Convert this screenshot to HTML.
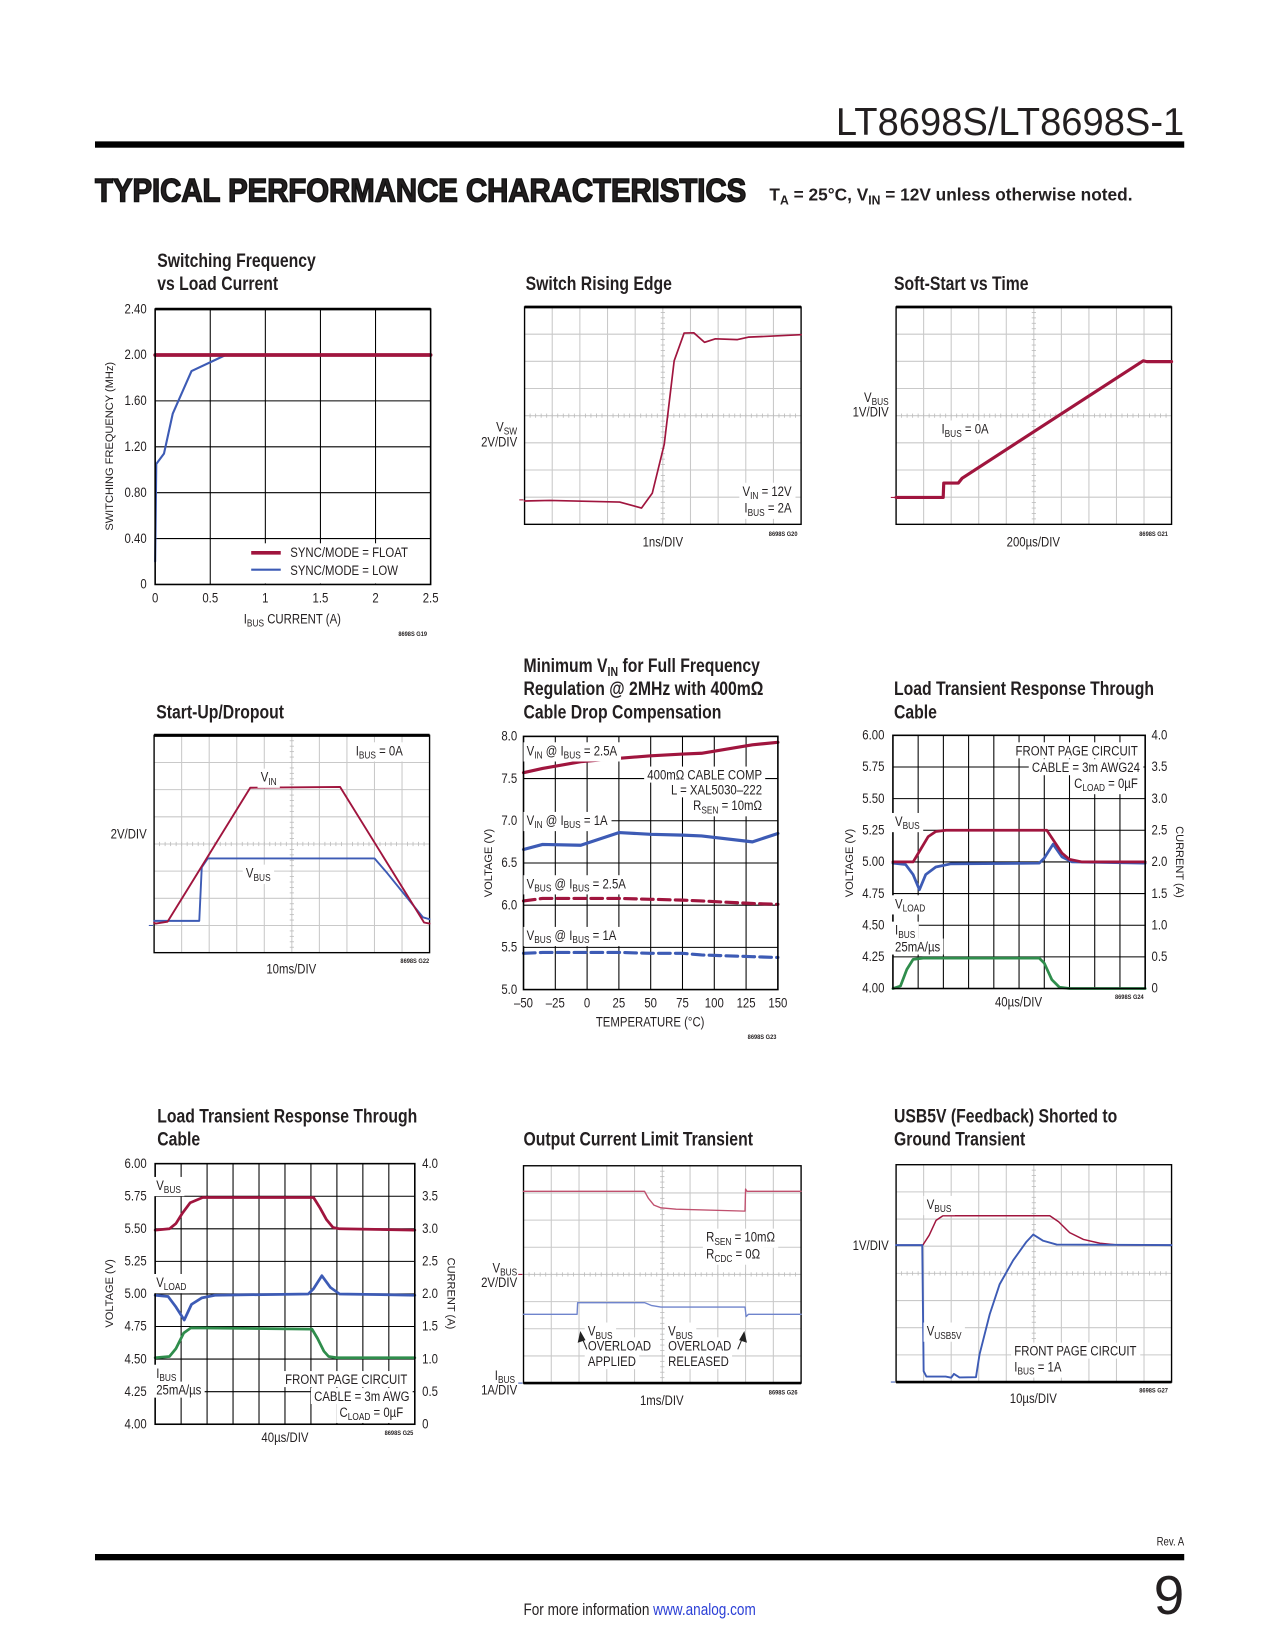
<!DOCTYPE html>
<html><head><meta charset="utf-8"><title>LT8698S Typical Performance Characteristics</title>
<style>
html,body{margin:0;padding:0;background:#fff;}
svg{display:block;}
text{font-family:"Liberation Sans Narrow","Liberation Sans",sans-serif;fill:#231f20;}
.tk{font-size:13px;}
.lb{font-size:13px;}
.s{font-size:9.5px;}
.ttl{font-size:18px;font-weight:bold;}
.code{font-size:6.5px;font-weight:bold;}
.rot{font-family:"Liberation Sans",sans-serif;font-size:10.5px;}
</style></head>
<body>
<svg id="page" xmlns="http://www.w3.org/2000/svg" width="1275" height="1650" viewBox="0 0 1208 1564" preserveAspectRatio="none">
<rect x="0" y="0" width="1208" height="1564" fill="#fff"/>
<text x="1122" y="128" text-anchor="end" font-size="37" textLength="330" lengthAdjust="spacingAndGlyphs">LT8698S/LT8698S-1</text>
<rect x="90" y="134" width="1032" height="6" fill="#000"/>
<text x="90" y="191" font-size="31" font-weight="bold" stroke="#111" stroke-width="1.4" textLength="617" lengthAdjust="spacingAndGlyphs">TYPICAL PERFORMANCE CHARACTERISTICS</text>
<text x="729" y="190" font-size="17" font-weight="bold" textLength="344" lengthAdjust="spacingAndGlyphs">T<tspan font-size="12" dy="4">A</tspan><tspan dy="-4"> = 25°C, V</tspan><tspan font-size="12" dy="4">IN</tspan><tspan dy="-4"> = 12V unless otherwise noted.</tspan></text>

<g id="plots"></g>
<g id="knockouts"></g>

<g id="labels">
<!-- G19 -->
<text class="ttl" x="149" y="253">Switching Frequency</text>
<text class="ttl" x="149" y="275">vs Load Current</text>
<text class="rot" transform="translate(107,423) rotate(-90)" text-anchor="middle">SWITCHING FREQUENCY (MHz)</text>
<text class="lb" x="277" y="591" text-anchor="middle">I<tspan class="s" dy="3">BUS</tspan><tspan dy="-3"> CURRENT (A)</tspan></text>
<text class="code" x="391" y="603" text-anchor="middle">8698S G19</text>
<text class="lb" x="275" y="528">SYNC/MODE = FLOAT</text>
<text class="lb" x="275" y="545">SYNC/MODE = LOW</text>
<!-- G20 -->
<text class="ttl" x="498" y="275">Switch Rising Edge</text>
<text class="lb" x="490" y="409" text-anchor="end">V<tspan class="s" dy="3">SW</tspan></text>
<text class="lb" x="490" y="423" text-anchor="end">2V/DIV</text>
<text class="lb" x="628" y="518" text-anchor="middle">1ns/DIV</text>
<text class="code" x="742" y="508" text-anchor="middle">8698S G20</text>
<text class="lb ko" x="750" y="470" text-anchor="end">V<tspan class="s" dy="3">IN</tspan><tspan dy="-3"> = 12V</tspan></text>
<text class="lb ko" x="750" y="486" text-anchor="end">I<tspan class="s" dy="3">BUS</tspan><tspan dy="-3"> = 2A</tspan></text>
<!-- G21 -->
<text class="ttl" x="847" y="275">Soft-Start vs Time</text>
<text class="lb" x="842" y="381" text-anchor="end">V<tspan class="s" dy="3">BUS</tspan></text>
<text class="lb" x="842" y="395" text-anchor="end">1V/DIV</text>
<text class="lb ko" x="892" y="411">I<tspan class="s" dy="3">BUS</tspan><tspan dy="-3"> = 0A</tspan></text>
<text class="lb" x="979" y="518" text-anchor="middle">200µs/DIV</text>
<text class="code" x="1093" y="508" text-anchor="middle">8698S G21</text>
<!-- G22 -->
<text class="ttl" x="148" y="681">Start-Up/Dropout</text>
<text class="lb" x="139" y="795" text-anchor="end">2V/DIV</text>
<text class="lb ko" x="337" y="716">I<tspan class="s" dy="3">BUS</tspan><tspan dy="-3"> = 0A</tspan></text>
<text class="lb ko" x="247" y="741">V<tspan class="s" dy="3">IN</tspan></text>
<text class="lb ko" x="233" y="832">V<tspan class="s" dy="3">BUS</tspan></text>
<text class="lb" x="276" y="923" text-anchor="middle">10ms/DIV</text>
<text class="code" x="393" y="913" text-anchor="middle">8698S G22</text>
<!-- G23 -->
<text class="ttl" x="496" y="637">Minimum V<tspan font-size="12" dy="4">IN</tspan><tspan dy="-4"> for Full Frequency</tspan></text>
<text class="ttl" x="496" y="659">Regulation @ 2MHz with 400mΩ</text>
<text class="ttl" x="496" y="681">Cable Drop Compensation</text>
<text class="rot" transform="translate(466,818) rotate(-90)" text-anchor="middle">VOLTAGE (V)</text>
<text class="lb" x="616" y="973" text-anchor="middle">TEMPERATURE (°C)</text>
<text class="code" x="722" y="985" text-anchor="middle">8698S G23</text>
<text class="lb ko" x="499" y="716">V<tspan class="s" dy="3">IN</tspan><tspan dy="-3"> @ I</tspan><tspan class="s" dy="3">BUS</tspan><tspan dy="-3"> = 2.5A</tspan></text>
<text class="lb ko" x="722" y="739" text-anchor="end">400mΩ CABLE COMP</text>
<text class="lb ko" x="722" y="753" text-anchor="end">L = XAL5030–222</text>
<text class="lb ko" x="722" y="768" text-anchor="end">R<tspan class="s" dy="3">SEN</tspan><tspan dy="-3"> = 10mΩ</tspan></text>
<text class="lb ko" x="499" y="782">V<tspan class="s" dy="3">IN</tspan><tspan dy="-3"> @ I</tspan><tspan class="s" dy="3">BUS</tspan><tspan dy="-3"> = 1A</tspan></text>
<text class="lb ko" x="499" y="842">V<tspan class="s" dy="3">BUS</tspan><tspan dy="-3"> @ I</tspan><tspan class="s" dy="3">BUS</tspan><tspan dy="-3"> = 2.5A</tspan></text>
<text class="lb ko" x="499" y="891">V<tspan class="s" dy="3">BUS</tspan><tspan dy="-3"> @ I</tspan><tspan class="s" dy="3">BUS</tspan><tspan dy="-3"> = 1A</tspan></text>
<!-- G24 -->
<text class="ttl" x="847" y="659">Load Transient Response Through</text>
<text class="ttl" x="847" y="681">Cable</text>
<text class="rot" transform="translate(808,818) rotate(-90)" text-anchor="middle">VOLTAGE (V)</text>
<text class="rot" transform="translate(1114,817) rotate(90)" text-anchor="middle">CURRENT (A)</text>
<text class="lb ko" x="1078" y="716" text-anchor="end">FRONT PAGE CIRCUIT</text>
<text class="lb ko" x="1080" y="732" text-anchor="end">CABLE = 3m AWG24</text>
<text class="lb ko" x="1078" y="747" text-anchor="end">C<tspan class="s" dy="3">LOAD</tspan><tspan dy="-3"> = 0µF</tspan></text>
<text class="lb ko" x="848" y="783">V<tspan class="s" dy="3">BUS</tspan></text>
<text class="lb ko" x="848" y="861">V<tspan class="s" dy="3">LOAD</tspan></text>
<text class="lb ko" x="848" y="886">I<tspan class="s" dy="3">BUS</tspan></text>
<text class="lb ko" x="848" y="902">25mA/µs</text>
<text class="lb" x="965" y="954" text-anchor="middle">40µs/DIV</text>
<text class="code" x="1070" y="947" text-anchor="middle">8698S G24</text>
<!-- G25 -->
<text class="ttl" x="149" y="1064">Load Transient Response Through</text>
<text class="ttl" x="149" y="1086">Cable</text>
<text class="rot" transform="translate(107,1226) rotate(-90)" text-anchor="middle">VOLTAGE (V)</text>
<text class="rot" transform="translate(424,1226) rotate(90)" text-anchor="middle">CURRENT (A)</text>
<text class="lb ko" x="148" y="1128">V<tspan class="s" dy="3">BUS</tspan></text>
<text class="lb ko" x="148" y="1220">V<tspan class="s" dy="3">LOAD</tspan></text>
<text class="lb ko" x="148" y="1306">I<tspan class="s" dy="3">BUS</tspan></text>
<text class="lb ko" x="148" y="1322">25mA/µs</text>
<text class="lb ko" x="386" y="1312" text-anchor="end">FRONT PAGE CIRCUIT</text>
<text class="lb ko" x="388" y="1328" text-anchor="end">CABLE = 3m AWG</text>
<text class="lb ko" x="382" y="1343" text-anchor="end">C<tspan class="s" dy="3">LOAD</tspan><tspan dy="-3"> = 0µF</tspan></text>
<text class="lb" x="270" y="1367" text-anchor="middle">40µs/DIV</text>
<text class="code" x="378" y="1360" text-anchor="middle">8698S G25</text>
<!-- G26 -->
<text class="ttl" x="496" y="1086">Output Current Limit Transient</text>
<text class="lb" x="490" y="1206" text-anchor="end">V<tspan class="s" dy="3">BUS</tspan></text>
<text class="lb" x="490" y="1220" text-anchor="end">2V/DIV</text>
<text class="lb" x="488" y="1308" text-anchor="end">I<tspan class="s" dy="3">BUS</tspan></text>
<text class="lb" x="490" y="1322" text-anchor="end">1A/DIV</text>
<text class="lb ko" x="669" y="1177">R<tspan class="s" dy="3">SEN</tspan><tspan dy="-3"> = 10mΩ</tspan></text>
<text class="lb ko" x="669" y="1193">R<tspan class="s" dy="3">CDC</tspan><tspan dy="-3"> = 0Ω</tspan></text>
<text class="lb ko" x="557" y="1266">V<tspan class="s" dy="3">BUS</tspan></text>
<text class="lb ko" x="557" y="1280">OVERLOAD</text>
<text class="lb ko" x="557" y="1295">APPLIED</text>
<text class="lb ko" x="633" y="1266">V<tspan class="s" dy="3">BUS</tspan></text>
<text class="lb ko" x="633" y="1280">OVERLOAD</text>
<text class="lb ko" x="633" y="1295">RELEASED</text>
<text class="lb" x="627" y="1332" text-anchor="middle">1ms/DIV</text>
<text class="code" x="742" y="1322" text-anchor="middle">8698S G26</text>
<!-- G27 -->
<text class="ttl" x="847" y="1064">USB5V (Feedback) Shorted to</text>
<text class="ttl" x="847" y="1086">Ground Transient</text>
<text class="lb" x="842" y="1185" text-anchor="end">1V/DIV</text>
<text class="lb ko" x="878" y="1146">V<tspan class="s" dy="3">BUS</tspan></text>
<text class="lb ko" x="878" y="1266">V<tspan class="s" dy="3">USB5V</tspan></text>
<text class="lb ko" x="961" y="1285">FRONT PAGE CIRCUIT</text>
<text class="lb ko" x="961" y="1300">I<tspan class="s" dy="3">BUS</tspan><tspan dy="-3"> = 1A</tspan></text>
<text class="lb" x="979" y="1330" text-anchor="middle">10µs/DIV</text>
<text class="code" x="1093" y="1320" text-anchor="middle">8698S G27</text>
</g>

<text x="1122" y="1465" text-anchor="end" font-size="11">Rev. A</text>
<rect x="90" y="1473" width="1032" height="6" fill="#000"/>
<text class="nocond" x="1122" y="1530" text-anchor="end" font-size="52" style="font-family:'Liberation Sans',sans-serif;">9</text>
<text x="606" y="1531" text-anchor="middle" font-size="15.5">For more information <tspan fill="#2b3fd6" style="fill:#2b3fd6">www.analog.com</tspan></text>
</svg>

<script>
// ---------- DATA ----------
// G19 switching frequency vs load current
const g19XTicks=[0,0.5,1,1.5,2,2.5];
const g19XTickLabels=['0','0.5','1','1.5','2','2.5'];
const g19YTicks=[0,0.4,0.8,1.2,1.6,2.0,2.4];
const g19YTickLabels=['0','0.40','0.80','1.20','1.60','2.00','2.40'];
const g19FloatCurrent=[0,2.5];
const g19FloatFreq=[2.0,2.0];
const g19LowCurrent=[0,0.01,0.08,0.16,0.33,0.64,2.5];
const g19LowFreq=[0.2,1.05,1.14,1.49,1.86,2.0,2.0];
// G20 switch rising edge (divisions)
const g20Time=[0,0.91,3.44,4.23,4.62,5.05,5.41,5.77,6.12,6.51,6.9,7.7,8.09,8.96,10];
const g20Vsw=[0.86,0.88,0.82,0.6,1.15,2.94,6.02,7.04,7.05,6.7,6.83,6.8,6.89,6.93,6.98];
// G21 soft-start (divisions)
const g21Time=[0,1.71,1.73,2.26,2.4,8.97,9.1,10];
const g21Vbus=[0.99,0.99,1.52,1.52,1.7,6.02,5.99,5.99];
// G22 start-up/dropout (divisions)
const g22VinTime=[0,0.06,0.49,3.49,6.75,9.8,10];
const g22Vin=[1.1,1.07,1.14,6.07,6.1,1.11,1.07];
const g22VbusTime=[0,1.64,1.73,1.95,8.0,8.46,9.76,10];
const g22Vbus=[1.17,1.17,3.14,3.47,3.47,2.93,1.3,1.23];
// G23 minimum VIN vs temperature
const g23XTicks=[-50,-25,0,25,50,75,100,125,150];
const g23XTickLabels=['–50','–25','0','25','50','75','100','125','150'];
const g23YTicks=[5.0,5.5,6.0,6.5,7.0,7.5,8.0];
const g23YTickLabels=['5.0','5.5','6.0','6.5','7.0','7.5','8.0'];
const g23Temps=[-50,-35,-5,25,50,75,90,130,150];
const g23Vin25=[7.57,7.62,7.70,7.74,7.77,7.79,7.80,7.90,7.93];
const g23Vin1=[6.66,6.72,6.71,6.86,6.84,6.83,6.82,6.75,6.85];
const g23Vbus25=[6.05,6.08,6.08,6.08,6.07,6.06,6.05,6.02,6.01];
const g23Vbus1=[5.43,5.44,5.44,5.44,5.43,5.43,5.41,5.39,5.38];
// G24 / G25 load transient (x divisions, left axis volts)
const ltLeftTicks=[4.0,4.25,4.5,4.75,5.0,5.25,5.5,5.75,6.0];
const ltLeftLabels=['4.00','4.25','4.50','4.75','5.00','5.25','5.50','5.75','6.00'];
const ltRightLabels=['0','0.5','1.0','1.5','2.0','2.5','3.0','3.5','4.0'];
const g24VbusT=[0,0.8,1.1,1.4,1.7,2.1,6.1,6.4,6.7,7.0,7.5,10];
const g24Vbus=[5.0,5.0,5.1,5.2,5.24,5.25,5.25,5.16,5.07,5.02,5.0,5.0];
const g24VloadT=[0,0.5,0.8,1.05,1.3,1.7,2.3,5.8,6.0,6.35,6.7,7.1,10];
const g24Vload=[4.99,4.98,4.9,4.78,4.9,4.96,4.985,4.99,5.03,5.14,5.04,5.0,4.99];
const g24IbusT=[0,0.3,0.55,0.8,1.2,5.8,6.0,6.3,6.6,7.0,10];
const g24Ibus=[4.0,4.02,4.15,4.23,4.24,4.24,4.2,4.07,4.01,4.0,4.0];
const g25VbusT=[0,0.55,0.8,1.05,1.35,1.83,6.1,6.35,6.6,6.85,7.1,10];
const g25Vbus=[5.49,5.5,5.54,5.62,5.7,5.74,5.74,5.66,5.57,5.51,5.5,5.49];
const g25VloadT=[0,0.5,0.8,1.12,1.4,1.8,2.3,5.9,6.1,6.42,6.75,7.1,10];
const g25Vload=[4.99,4.98,4.9,4.8,4.92,4.97,4.99,5.0,5.04,5.14,5.05,5.0,4.99];
const g25IbusT=[0,0.55,0.8,1.1,1.38,6.04,6.25,6.5,6.68,7.0,10];
const g25Ibus=[4.51,4.52,4.58,4.7,4.74,4.73,4.66,4.56,4.52,4.51,4.51];
// G26 current limit transient (divisions)
const g26VbusT=[0,4.36,4.5,4.7,4.95,5.5,7.98,8.0,8.05,10];
const g26Vbus=[7.06,7.06,6.8,6.55,6.45,6.4,6.33,7.14,7.06,7.06];
const g26IbusT=[0,1.93,1.95,4.36,4.6,4.95,7.98,8.02,8.1,10];
const g26Ibus=[2.53,2.53,2.96,2.96,2.86,2.8,2.8,2.45,2.53,2.53];
// G27 USB5V shorted (divisions)
const g27VbusT=[0,0.97,1.2,1.45,1.7,5.58,5.9,6.3,6.8,7.4,8.0,10];
const g27Vbus=[5.04,5.04,5.4,5.95,6.12,6.12,5.9,5.5,5.25,5.11,5.05,5.04];
const g27UsbT=[0,0.95,1.0,1.1,1.8,2.0,2.1,2.3,2.9,3.03,3.4,3.76,4.25,4.73,4.98,5.34,5.83,10];
const g27Usb=[5.04,5.04,0.4,0.2,0.2,0.16,0.3,0.17,0.18,1.02,2.5,3.6,4.48,5.16,5.43,5.2,5.06,5.04];

// ---------- DRAWING ----------
const NS='http://www.w3.org/2000/svg';
const root=document.getElementById('plots');
function mk(tag,attrs,parent){const e=document.createElementNS(NS,tag);for(const k in attrs)e.setAttribute(k,attrs[k]);(parent||root).appendChild(e);return e;}
function pts(xs,ys,fx,fy){return xs.map((v,i)=>(i?'L':'M')+fx(v).toFixed(2)+' '+fy(ys[i]).toFixed(2)).join(' ');}
function txt(x,y,s,anchor,g){const t=mk('text',{x:x,y:y,'class':'tk','text-anchor':anchor},g);t.textContent=s;return t;}

function trace(g,xs,ys,fx,fy,color,w,name,dash){
  const p=mk('path',{d:pts(xs,ys,fx,fy),fill:'none',stroke:color,'stroke-width':w,'stroke-linejoin':'round','stroke-linecap':'round'},g);
  if(dash)p.setAttribute('stroke-dasharray',dash);
  
  
  return p;
}

function scope(name,x0,y0,w,h){
  const g=mk('g',{});
  
  
  const fx=d=>x0+d*w/10, fy=d=>y0+h-d*h/8;
  for(let i=1;i<10;i++){const l=mk('line',{x1:fx(i),x2:fx(i),y1:y0,y2:y0+h,stroke:'#c9c9c9','stroke-width':1},g);
    
    }
  for(let i=1;i<8;i++){const l=mk('line',{x1:x0,x2:x0+w,y1:fy(i),y2:fy(i),stroke:'#c9c9c9','stroke-width':1},g);
    
    }
  for(let i=1;i<50;i++){const l=mk('line',{x1:fx(i/5),x2:fx(i/5),y1:fy(4)-2,y2:fy(4)+2,stroke:'#bdbdbd','stroke-width':0.8},g);
    
    }
  for(let i=1;i<40;i++){const l=mk('line',{x1:fx(5)-2,x2:fx(5)+2,y1:fy(i/5),y2:fy(i/5),stroke:'#bdbdbd','stroke-width':0.8},g);
    
    }
  const f=mk('rect',{x:x0,y:y0,width:w,height:h,fill:'none',stroke:'#000','stroke-width':1.3},g);
  
  
  return {g,fx,fy};
}
function marker(g,x,y,color,name){const m=mk('line',{x1:x-5,x2:x-1,y1:y,y2:y,stroke:color,'stroke-width':1},g);
  
  }

const RED='#a0153e', BLUE='#3d5bb5', GREEN='#2f8d4c';

// ===== G19 =====
(function(){
  const x0=147,y0=293,w=261,h=261;
  const g=mk('g',{});
  
  
  const fx=v=>x0+v/2.5*w, fy=v=>y0+h-v/2.4*h;
  g19XTicks.forEach((v,i)=>{
    if(i>0&&i<g19XTicks.length-1){const l=mk('line',{x1:fx(v),x2:fx(v),y1:y0,y2:y0+h,stroke:'#000','stroke-width':1},g);
      
      }
    const t=txt(fx(v),y0+h+17,g19XTickLabels[i],'middle',g);
    
    
  });
  g19YTicks.forEach((v,i)=>{
    if(i>0&&i<g19YTicks.length-1){const l=mk('line',{x1:x0,x2:x0+w,y1:fy(v),y2:fy(v),stroke:'#000','stroke-width':1},g);
      
      }
    const t=txt(x0-8,fy(v)+4,g19YTickLabels[i],'end',g);
    
    
  });
  const lb=mk('rect',{x:232,y:515,width:x0+w-233,height:y0+h-516,fill:'#fff'},g);
  
  
  const l1=mk('line',{x1:238,x2:266,y1:524,y2:524,stroke:RED,'stroke-width':3.5},g);
  
  
  const l2=mk('line',{x1:238,x2:266,y1:540,y2:540,stroke:BLUE,'stroke-width':2},g);
  
  
  trace(g,g19LowCurrent,g19LowFreq,fx,fy,BLUE,2,'g19-series-low');
  trace(g,g19FloatCurrent,g19FloatFreq,fx,fy,RED,3.5,'g19-series-float');
  const f=mk('rect',{x:x0,y:y0,width:w,height:h,fill:'none',stroke:'#000','stroke-width':1.5},g);
  
  
  const tb=mk('line',{x1:x0,x2:x0+w,y1:y0,y2:y0,stroke:'#000','stroke-width':2.5},g);
  
  
})();

// ===== G20 =====
(function(){
  const s=scope('g20-chart',497,291,262,206);
  trace(s.g,g20Time,g20Vsw,s.fx,s.fy,RED,1.6,'g20-series-vsw');
  marker(s.g,497,s.fy(0.9),RED,'g20-ground-marker');
  const tb=mk('line',{x1:497,x2:759,y1:291,y2:291,stroke:'#000','stroke-width':2.5},s.g);
  
  
})();

// ===== G21 =====
(function(){
  const s=scope('g21-chart',849,291,261,206);
  trace(s.g,g21Time,g21Vbus,s.fx,s.fy,RED,3,'g21-series-vbus');
  marker(s.g,849,s.fy(0.99),RED,'g21-ground-marker');
  const tb=mk('line',{x1:849,x2:1110,y1:291,y2:291,stroke:'#000','stroke-width':2.5},s.g);
  
  
})();

// ===== G22 =====
(function(){
  const s=scope('g22-chart',146,697,261,206);
  trace(s.g,g22VbusTime,g22Vbus,s.fx,s.fy,BLUE,1.8,'g22-series-vbus');
  trace(s.g,g22VinTime,g22Vin,s.fx,s.fy,RED,1.8,'g22-series-vin');
  marker(s.g,146,s.fy(1.0),BLUE,'g22-ground-marker');
  const tb=mk('line',{x1:146,x2:407,y1:697,y2:697,stroke:'#000','stroke-width':3},s.g);
  
  
})();

// ===== G23 =====
(function(){
  const x0=496,y0=698,w=241,h=240;
  const g=mk('g',{});
  
  
  const fx=t=>x0+(t+50)/200*w, fy=v=>y0+h-(v-5)/3*h;
  g23XTicks.forEach((v,i)=>{
    if(i>0&&i<g23XTicks.length-1){const l=mk('line',{x1:fx(v),x2:fx(v),y1:y0,y2:y0+h,stroke:'#000','stroke-width':1},g);
      
      }
    const t=txt(fx(v),y0+h+17,g23XTickLabels[i],'middle',g);
    
    
  });
  g23YTicks.forEach((v,i)=>{
    if(i>0&&i<g23YTicks.length-1){const l=mk('line',{x1:x0,x2:x0+w,y1:fy(v),y2:fy(v),stroke:'#000','stroke-width':1},g);
      
      }
    const t=txt(x0-6,fy(v)+4,g23YTickLabels[i],'end',g);
    
    
  });
  trace(g,g23Temps,g23Vin25,fx,fy,RED,3,'g23-series-vin-2p5a');
  trace(g,g23Temps,g23Vin1,fx,fy,BLUE,3,'g23-series-vin-1a');
  trace(g,g23Temps,g23Vbus25,fx,fy,RED,3,'g23-series-vbus-2p5a','11 5');
  trace(g,g23Temps,g23Vbus1,fx,fy,BLUE,3,'g23-series-vbus-1a','11 5');
  const f=mk('rect',{x:x0,y:y0,width:w,height:h,fill:'none',stroke:'#000','stroke-width':1.5},g);
  
  
})();

// ===== G24 / G25 =====
function loadTransient(name,x0,y0,w,h,lx,rx,sets){
  const g=mk('g',{});
  
  
  const fx=d=>x0+d*w/10, fy=v=>y0+h-(v-4)/2*h;
  for(let i=1;i<10;i++){const l=mk('line',{x1:fx(i),x2:fx(i),y1:y0,y2:y0+h,stroke:'#000','stroke-width':1},g);
    
    }
  ltLeftTicks.forEach((v,i)=>{
    if(i>0&&i<ltLeftTicks.length-1){const l=mk('line',{x1:x0,x2:x0+w,y1:fy(v),y2:fy(v),stroke:'#000','stroke-width':1},g);
      
      }
    const a=txt(lx,fy(v)+4,ltLeftLabels[i],'end',g);
    
    
    const b=txt(rx,fy(v)+4,ltRightLabels[i],'start',g);
    
    
  });
  sets.forEach(s=>trace(g,s[0],s[1],fx,fy,s[2],2.6,s[3]));
  const f=mk('rect',{x:x0,y:y0,width:w,height:h,fill:'none',stroke:'#000','stroke-width':1.5},g);
  
  
}
loadTransient('g24-chart',846,697,239,240,838,1091,[
  [g24IbusT,g24Ibus,GREEN,'g24-series-ibus'],
  [g24VloadT,g24Vload,BLUE,'g24-series-vload'],
  [g24VbusT,g24Vbus,RED,'g24-series-vbus']]);
loadTransient('g25-chart',147,1103,246,247,139,400,[
  [g25IbusT,g25Ibus,GREEN,'g25-series-ibus'],
  [g25VloadT,g25Vload,BLUE,'g25-series-vload'],
  [g25VbusT,g25Vbus,RED,'g25-series-vbus']]);

// ===== G26 =====
(function(){
  const s=scope('g26-chart',496,1105,263,206);
  trace(s.g,g26VbusT,g26Vbus,s.fx,s.fy,'#c0506e',1.3,'g26-series-vbus');
  trace(s.g,g26IbusT,g26Ibus,s.fx,s.fy,'#6f84cc',1.3,'g26-series-ibus');
  marker(s.g,496,s.fy(4),RED,'g26-vbus-marker');
  marker(s.g,496,s.fy(0),BLUE,'g26-ibus-marker');
  const bb=mk('line',{x1:496,x2:759,y1:1311,y2:1311,stroke:'#000','stroke-width':2.5},s.g);
  
  
})();

// ===== G27 =====
(function(){
  const s=scope('g27-chart',849,1104,261,206);
  trace(s.g,g27VbusT,g27Vbus,s.fx,s.fy,RED,1.4,'g27-series-vbus');
  trace(s.g,g27UsbT,g27Usb,s.fx,s.fy,BLUE,1.8,'g27-series-vusb5v');
  marker(s.g,849,s.fy(0),BLUE,'g27-ground-marker');
  const bb=mk('line',{x1:849,x2:1110,y1:1310,y2:1310,stroke:'#000','stroke-width':2.5},s.g);
  
  
})();

// ===== condense text to mimic the narrow datasheet face =====
document.querySelectorAll('#page text').forEach(t=>{
  if(t.hasAttribute('textLength'))return;
  if(t.classList.contains('nocond')||t.classList.contains('rot'))return;
  const L=t.getComputedTextLength();
  if(L>0){t.setAttribute('textLength',(L*0.83).toFixed(1));t.setAttribute('lengthAdjust','spacingAndGlyphs');}
});

// ===== white knockout boxes behind in-plot labels =====
const ko=document.getElementById('knockouts');
document.querySelectorAll('#labels text.ko').forEach(t=>{
  const b=t.getBBox();
  const r=mk('rect',{x:(b.x-3).toFixed(1),y:(b.y-1).toFixed(1),width:(b.width+6).toFixed(1),height:(b.height+1).toFixed(1),fill:'#fff'},ko);
  
  
});

// ===== arrows for G26 annotations (drawn above knockouts) =====
(function(){
  const g=document.getElementById('labels');
  const a1=mk('path',{d:'M556 1279 L551 1267 M548 1272 L550 1263 L554 1270 Z',fill:'#222',stroke:'#222','stroke-width':1},g);
  
  
  const a2=mk('path',{d:'M699 1279 L704 1267 M701 1270 L705 1263 L707 1272 Z',fill:'#222',stroke:'#222','stroke-width':1},g);
  
  
})();
</script>
</body></html>
